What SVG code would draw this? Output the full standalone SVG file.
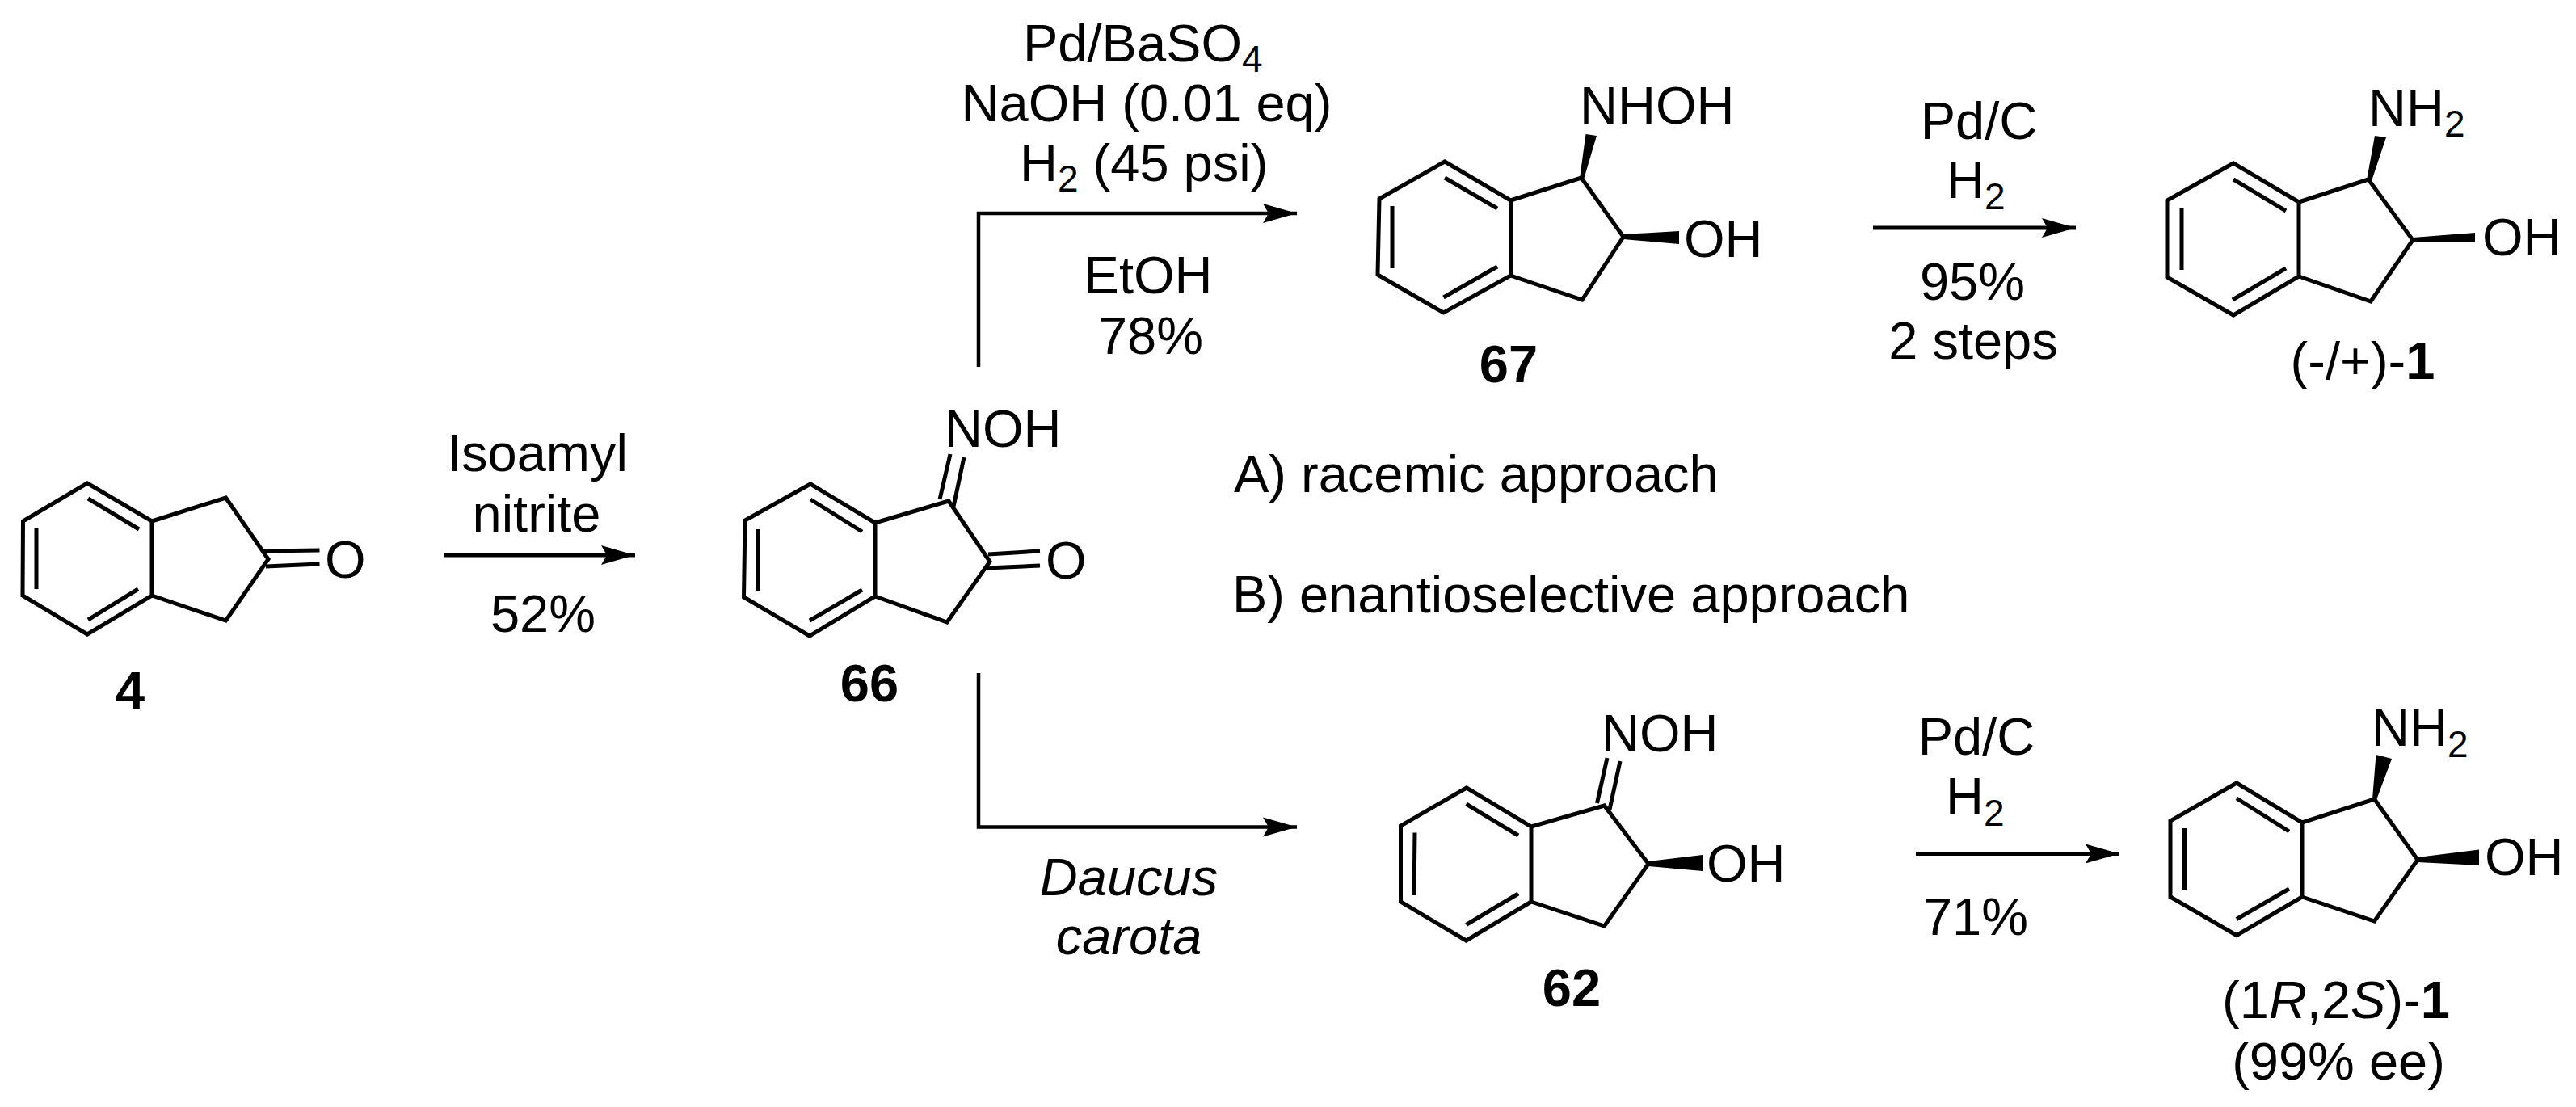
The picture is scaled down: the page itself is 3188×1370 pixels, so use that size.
<svg xmlns="http://www.w3.org/2000/svg" width="3188" height="1370" viewBox="0 0 3188 1370">
<style>
text{font-family:"Liberation Sans",Arial,sans-serif;font-size:65px;fill:#000}
.m{text-anchor:middle}
.b{font-weight:700}
.i{font-style:italic}
.bond{fill:none;stroke:#000;stroke-width:5;stroke-linejoin:miter;stroke-linecap:butt}
.w{fill:#000;stroke:none}
.c{fill:none;stroke:#000;stroke-linejoin:miter}
.s{font-size:46px}
</style>
<defs>
<marker id="ah" markerUnits="userSpaceOnUse" markerWidth="44" markerHeight="26" refX="42" refY="13" orient="auto">
<path d="M0 1L42 13L0 25L7 13Z" fill="#000"/>
</marker>
</defs>
<rect width="3188" height="1370" fill="#fff"/>
<g id="connectors">
<path class="c" stroke-width="5" d="M549 687H786" marker-end="url(#ah)"/>
<path class="c" stroke-width="4.500" d="M1211 454V264H1605" marker-end="url(#ah)"/>
<path class="c" stroke-width="4.500" d="M1211 833V1023.500H1605" marker-end="url(#ah)"/>
<path class="c" stroke-width="5" d="M2318 282H2569" marker-end="url(#ah)"/>
<path class="c" stroke-width="5" d="M2371 1056.500H2623" marker-end="url(#ah)"/>
</g>
<g id="node-4">
<path class="bond" d="M108 598L188 645V737L108 785L28 737L28.500 645Z"/>
<path class="bond" d="M109 617L172 655M109 767L171 729M45 653V729"/>
<path class="bond" d="M188 645L279.500 616L332 692L279.500 768L188 737"/>
<path class="bond" d="M327 682L395.500 681M329 701L395.500 698"/>
<text x="402" y="715">O</text>
<text class="m b" x="161" y="877">4</text>
</g>
<g id="node-66">
<path class="bond" d="M1003 599L1083 647V738L1002 787L920.500 739L922 644Z"/>
<path class="bond" d="M1003 618L1067 658M1002 768L1067 730M937.500 655V731"/>
<path class="bond" d="M1083 647L1174 620L1225 695L1172 770L1083 738"/>
<path class="bond" d="M1223 686L1287 682M1221 703L1287 700"/>
<path class="bond" d="M1163 618L1176 562M1180 627L1193 566"/>
<text x="1294" y="716">O</text>
<text x="1169" y="553">NOH</text>
<text class="m b" x="1076" y="868">66</text>
</g>
<g id="node-67">
<path class="bond" d="M1788 200L1869.500 248V341L1786.500 387L1705 340L1707 246Z"/>
<path class="bond" d="M1788 220L1853 258M1786.500 368L1853 330M1723 255V332"/>
<path class="bond" d="M1869.500 248L1957 220L2009 293L1958 371L1869.500 341"/>
<path class="w" d="M1955 221L1962.500 166L1976 168L1960 222Z"/>
<path class="w" d="M2009 290L2078 286V302L2009 296Z"/>
<text x="1955" y="153">NHOH</text>
<text x="2084" y="318">OH</text>
<text class="m b" x="1867" y="473">67</text>
</g>
<g id="node-1-rac">
<path class="bond" d="M2764 202L2845 250V342L2764 390L2682 343V248Z"/>
<path class="bond" d="M2764 222L2829 261M2763 371L2829 332M2700 257V334"/>
<path class="bond" d="M2845 250L2931 222L2986 297L2934 373L2845 342"/>
<path class="w" d="M2929 223L2939 168L2953 170L2935 224Z"/>
<path class="w" d="M2986 294L3063 288V300L2986 300Z"/>
<text x="2931" y="156">NH<tspan class="s" dy="13">2</tspan></text>
<text x="3072" y="316">OH</text>
<text class="m" x="2924" y="469">(-/+)-<tspan class="b">1</tspan></text>
</g>
<g id="node-62">
<path class="bond" d="M1815 975L1895 1023V1116L1814.500 1164L1733.500 1116V1022Z"/>
<path class="bond" d="M1814.500 995L1879 1034M1814.500 1144.500L1879 1106M1751 1030.500L1750 1108"/>
<path class="bond" d="M1895 1023L1985.500 997L2040 1069L1985.500 1146L1895 1116"/>
<path class="bond" d="M1976.500 994L1989 938M1992 1002L2005 942"/>
<path class="w" d="M2040 1066L2107 1058V1078L2040 1072Z"/>
<text x="1982" y="930">NOH</text>
<text x="2112" y="1091">OH</text>
<text class="m b" x="1945" y="1245">62</text>
</g>
<g id="node-1-ent">
<path class="bond" d="M2768 969L2849 1018V1110L2768 1157.500L2686 1110V1016Z"/>
<path class="bond" d="M2768 988L2833 1029M2768 1137.500L2833 1100M2703.500 1025V1102"/>
<path class="bond" d="M2849 1018L2938.500 989L2992 1064L2938.500 1140L2849 1110"/>
<path class="w" d="M2936 989L2940.500 934L2960 939L2941 990Z"/>
<path class="w" d="M2992 1061L3068 1051.500V1071L2992 1067Z"/>
<text x="2935" y="923">NH<tspan class="s" dy="14">2</tspan></text>
<text x="3075" y="1083">OH</text>
<text class="m" x="2891" y="1260">(1<tspan class="i">R</tspan>,2<tspan class="i">S</tspan>)-<tspan class="b">1</tspan></text>
<text class="m" x="2894" y="1336">(99% ee)</text>
</g>
<g id="conditions">
<text class="m" x="665" y="583">Isoamyl</text>
<text class="m" x="664" y="658">nitrite</text>
<text class="m" x="672" y="782">52%</text>
<text x="1266" y="76">Pd/BaSO<tspan class="s" dy="13">4</tspan></text>
<text class="m" x="1419" y="150">NaOH (0.01 eq)</text>
<text x="1262" y="224">H<tspan class="s" dy="13">2</tspan><tspan dy="-13"> (45 psi)</tspan></text>
<text class="m" x="1421" y="363">EtOH</text>
<text class="m" x="1424" y="438">78%</text>
<text class="m" x="2449" y="172">Pd/C</text>
<text x="2409" y="245">H<tspan class="s" dy="14">2</tspan></text>
<text class="m" x="2441" y="371">95%</text>
<text class="m" x="2442" y="444">2 steps</text>
<text class="m i" x="1397" y="1108">Daucus</text>
<text class="m i" x="1397" y="1181">carota</text>
<text class="m" x="2446" y="934">Pd/C</text>
<text x="2408" y="1008">H<tspan class="s" dy="14">2</tspan></text>
<text class="m" x="2445" y="1157">71%</text>
<text x="1527" y="609">A) racemic approach</text>
<text x="1525" y="758">B) enantioselective approach</text>
</g>
</svg>
